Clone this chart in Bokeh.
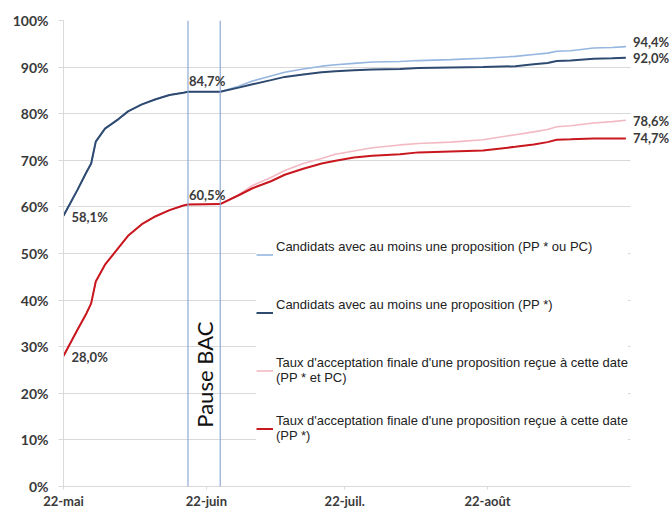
import numpy as np
from math import pi
from bokeh.plotting import figure
from bokeh.models import (Range1d, FixedTicker, PrintfTickFormatter, Span, Label,
                          Legend, LegendItem, BoxAnnotation)
from bokeh.embed import file_html
from bokeh.resources import INLINE

# ---------------- data ----------------
dates = ["2018-05-22", "2018-05-25", "2018-05-27", "2018-05-28", "2018-05-29",
         "2018-05-31", "2018-06-03", "2018-06-05", "2018-06-08", "2018-06-11",
         "2018-06-14", "2018-06-17", "2018-06-18", "2018-06-25", "2018-06-29",
         "2018-07-02", "2018-07-06", "2018-07-09", "2018-07-13", "2018-07-17",
         "2018-07-20", "2018-07-24", "2018-07-28", "2018-08-03", "2018-08-07",
         "2018-08-14", "2018-08-21", "2018-08-28", "2018-09-01", "2018-09-04",
         "2018-09-06", "2018-09-09", "2018-09-14", "2018-09-18", "2018-09-21"]

# Candidats avec au moins une proposition (PP * ou PC)
prop_pp_pc = [58.1, 63.6, 67.5, 69.3, 74.0, 76.8, 78.9, 80.5, 82.0, 83.1,
              84.0, 84.5, 84.7, 84.7, 85.9, 87.0, 88.1, 88.9, 89.6, 90.2,
              90.5, 90.8, 91.1, 91.2, 91.4, 91.6, 91.9, 92.3, 92.7, 93.0,
              93.4, 93.5, 94.1, 94.2, 94.4]
# Candidats avec au moins une proposition (PP *)
prop_pp = [58.1, 63.6, 67.5, 69.3, 74.0, 76.8, 78.9, 80.5, 82.0, 83.1,
           84.0, 84.5, 84.7, 84.7, 85.6, 86.3, 87.2, 87.9, 88.4, 88.9,
           89.1, 89.3, 89.5, 89.6, 89.8, 89.9, 90.0, 90.2, 90.6, 90.9,
           91.3, 91.4, 91.8, 91.9, 92.0]
# Taux d'acceptation finale d'une proposition reçue à cette date (PP * et PC)
acc_pp_pc = [28.0, 33.6, 37.2, 39.3, 44.0, 47.6, 51.3, 53.8, 56.3, 58.0,
             59.3, 60.3, 60.5, 60.6, 62.6, 64.6, 66.3, 67.8, 69.3, 70.4,
             71.3, 72.0, 72.7, 73.3, 73.6, 73.9, 74.4, 75.5, 76.1, 76.6,
             77.2, 77.4, 78.0, 78.3, 78.6]
# Taux d'acceptation finale d'une proposition reçue à cette date (PP *)
acc_pp = [28.0, 33.6, 37.2, 39.3, 44.0, 47.6, 51.3, 53.8, 56.3, 58.0,
          59.3, 60.3, 60.5, 60.6, 62.5, 64.0, 65.5, 66.9, 68.2, 69.3,
          69.9, 70.6, 71.0, 71.3, 71.7, 71.9, 72.1, 72.9, 73.4, 73.9,
          74.4, 74.5, 74.7, 74.7, 74.7]

pause_dates = ["2018-06-18", "2018-06-25"]
tick_dates = ["2018-05-22", "2018-06-22", "2018-07-22", "2018-08-22"]
tick_labels = ["22-mai", "22-juin", "22-juil.", "22-août"]
axis_end_date = "2018-09-22"
y_ticks = [0, 10, 20, 30, 40, 50, 60, 70, 80, 90, 100]

series_names = [
    "Candidats avec au moins une proposition (PP * ou PC)",
    "Candidats avec au moins une proposition (PP *)",
    "Taux d'acceptation finale d'une proposition reçue à cette date\n(PP * et PC)",
    "Taux d'acceptation finale d'une proposition reçue à cette date\n(PP *)",
]

# ---------------- helpers ----------------
origin = np.datetime64(dates[0], "D")
def day(d):
    return int((np.datetime64(d, "D") - origin).astype(int))

x = [day(d) for d in dates]
pause_x = [day(d) for d in pause_dates]
tick_x = [day(d) for d in tick_dates]
x_end = day(axis_end_date)

def fr(v):
    return f"{v:.1f}%".replace(".", ",")

C_LBLUE = "#95b6df"
C_DBLUE = "#2f4a70"
C_PINK = "#f3b9c3"
C_RED = "#c8171e"
GRID = "#d9d9d9"
TXT = "#3a3a3a"
FONT = "Lato"

W, H = 672, 511
LEFT, TOP = 63, 20
AXIS_W = 567            # pixel length of the date axis
FRAME_W = W - LEFT      # frame extends to the right edge so end labels are visible
view_end = x_end * FRAME_W / AXIS_W

p = figure(width=W, height=H, output_backend="svg", toolbar_location=None,
           x_range=Range1d(0, view_end), y_range=Range1d(0, 100),
           min_border_left=LEFT, min_border_right=0, min_border_top=TOP,
           min_border_bottom=10)
p.outline_line_color = None
p.background_fill_color = "white"

# axes
p.xaxis.ticker = FixedTicker(ticks=tick_x)
p.xaxis.bounds = (0, x_end)
p.xaxis.major_label_overrides = {t: l for t, l in zip(tick_x, tick_labels)}
p.yaxis.ticker = FixedTicker(ticks=y_ticks)
p.yaxis.formatter = PrintfTickFormatter(format="%d%%")
for ax in (p.xaxis, p.yaxis):
    ax.axis_line_color = GRID
    ax.major_tick_line_color = GRID
    ax.minor_tick_line_color = None
    ax.major_tick_in = 0
    ax.major_label_text_font = FONT
    ax.major_label_text_font_style = "bold"
    ax.major_label_text_color = TXT
p.xaxis.major_tick_out = 3
p.xaxis.major_label_standoff = 3
p.xaxis.major_label_text_font_size = "13px"
p.yaxis.major_tick_out = 5
p.yaxis.major_label_standoff = 10
p.yaxis.major_label_text_font_size = "14px"

p.xgrid.visible = False
p.ygrid.ticker = FixedTicker(ticks=y_ticks)
p.ygrid.grid_line_color = GRID

# blank area right of the date axis end (grid stops there)
p.add_layout(BoxAnnotation(left=x_end, fill_color="white", fill_alpha=1,
                           line_alpha=0, level="underlay"))

# pause lines
for px in pause_x:
    p.add_layout(Span(location=px, dimension="height", line_color="#8eaad6", line_width=1.2))

# series
r1 = p.line(x, prop_pp_pc, line_color=C_LBLUE, line_width=1.6)
r3 = p.line(x, acc_pp_pc, line_color=C_PINK, line_width=1.6)
r2 = p.line(x, prop_pp, line_color=C_DBLUE, line_width=2)
r4 = p.line(x, acc_pp, line_color=C_RED, line_width=2)

# legend (single-line labels padded to two lines so every entry has the same height)
pad = "\n\u00a0"
labels = [series_names[0] + pad, series_names[1] + pad, series_names[2], series_names[3]]
legend = Legend(items=[LegendItem(label=labels[0], renderers=[r1]),
                       LegendItem(label=labels[1], renderers=[r2]),
                       LegendItem(label=labels[2], renderers=[r3]),
                       LegendItem(label=labels[3], renderers=[r4])],
                location=(193, 43), orientation="vertical",
                background_fill_color="white", background_fill_alpha=1,
                border_line_color=None, padding=7, spacing=28, margin=0,
                glyph_width=17, glyph_height=15, label_standoff=3,
                label_width=350, label_height=20,
                label_text_font="Liberation Sans",
                label_text_font_size="13px", label_text_color="#222222")
p.add_layout(legend)

# value labels
def add_label(xv, yv, text, dx=0, dy=0, align="left"):
    p.add_layout(Label(x=xv, y=yv, text=text, x_offset=dx, y_offset=dy,
                       text_align=align, text_baseline="middle",
                       text_font=FONT, text_font_style="bold",
                       text_font_size="13px", text_color=TXT))

add_label(x[0], prop_pp[0], fr(prop_pp[0]), dx=8, dy=-1)
add_label(x[0], acc_pp[0], fr(acc_pp[0]), dx=8, dy=-1)
i_p = x.index(pause_x[0])
add_label(x[i_p], prop_pp[i_p], fr(prop_pp[i_p]), dx=1, dy=11)
add_label(x[i_p], acc_pp[i_p], fr(acc_pp[i_p]), dx=1, dy=10)
add_label(x[-1], prop_pp_pc[-1], fr(prop_pp_pc[-1]), dx=7, dy=5)
add_label(x[-1], prop_pp[-1], fr(prop_pp[-1]), dx=7, dy=0)
add_label(x[-1], acc_pp_pc[-1], fr(acc_pp_pc[-1]), dx=7, dy=-1)
add_label(x[-1], acc_pp[-1], fr(acc_pp[-1]), dx=7, dy=0)

# Pause BAC
p.add_layout(Label(x=(pause_x[0] + pause_x[1]) / 2, y=24, text="Pause BAC", angle=pi / 2,
                   text_align="center", text_baseline="middle", text_font=FONT,
                   text_font_size="22px", text_color="#111111"))

open("out.html", "w").write(file_html(p, INLINE))
